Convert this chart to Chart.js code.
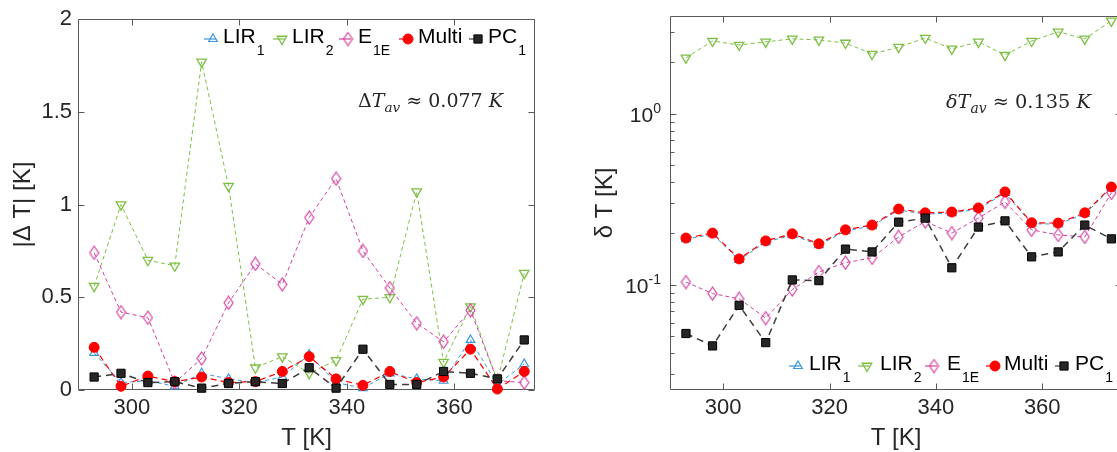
<!DOCTYPE html>
<html><head><meta charset="utf-8">
<script src="https://cdn.jsdelivr.net/npm/chart.js@4.4.1/dist/chart.umd.min.js"></script>
<style>
html,body{margin:0;padding:0;background:#fff;overflow:hidden;width:1117px;height:452px;}
#c1{position:absolute;left:0;top:0;}
#c2{position:absolute;left:560px;top:0;}
</style></head><body>
<canvas id="c1" width="560" height="452"></canvas>
<canvas id="c2" width="600" height="452"></canvas>
<script>
// ---------------- data ----------------
const temps = [293,298,303,308,313,318,323,328,333,338,343,348,353,358,363,368,373];
const xTicks = [300,320,340,360];
const absTicks = [0,0.5,1,1.5,2];
const absTickLabels = ['0','0.5','1','1.5','2'];
const relTicks = [0.1,1];
const relTickLabels = [['10','-1'],['10','0']];
const relMinorTicks = [0.03,0.04,0.05,0.06,0.07,0.08,0.09,0.2,0.3,0.4,0.5,0.6,0.7,0.8,0.9,2,3];
const seriesNames = [['LIR','1'],['LIR','2'],['E','1E'],['Multi',''],['PC','1']];

// |ΔT| [K]
const absLIR1  = [0.20,0.04,0.05,0.02,0.09,0.06,0.04,0.07,0.19,0.04,0.01,0.09,0.06,0.05,0.27,0.03,0.14];
const absLIR2  = [0.56,1.00,0.70,0.67,1.77,1.10,0.12,0.18,0.09,0.16,0.49,0.50,1.07,0.15,0.45,0.05,0.63];
const absE1E   = [0.74,0.42,0.39,0.04,0.17,0.47,0.68,0.57,0.93,1.14,0.75,0.55,0.36,0.26,0.43,0.05,0.04];
const absMulti = [0.23,0.02,0.075,0.045,0.07,0.04,0.045,0.10,0.18,0.06,0.025,0.10,0.04,0.07,0.22,0.005,0.10];
const absPC1   = [0.07,0.09,0.04,0.045,0.01,0.035,0.045,0.035,0.12,0.01,0.22,0.03,0.03,0.10,0.09,0.06,0.27];

// δT [K]
const relLIR1  = [0.185,0.198,0.140,0.178,0.196,0.171,0.207,0.221,0.274,0.260,0.263,0.278,0.345,0.228,0.227,0.260,0.368];
const relLIR2  = [2.13,2.67,2.53,2.64,2.75,2.71,2.60,2.24,2.46,2.78,2.40,2.64,2.21,2.67,3.02,2.75,3.50];
const relE1E   = [0.104,0.089,0.083,0.064,0.094,0.119,0.135,0.144,0.191,0.235,0.201,0.246,0.306,0.21,0.196,0.191,0.345];
const relMulti = [0.188,0.201,0.142,0.181,0.199,0.174,0.21,0.224,0.278,0.264,0.267,0.282,0.35,0.231,0.23,0.264,0.374];
const relPC1   = [0.052,0.044,0.076,0.046,0.107,0.106,0.162,0.156,0.233,0.246,0.126,0.218,0.237,0.146,0.156,0.224,0.186];

// ---------------- styles ----------------
const TXT = '#262626';
const SANS = '"Liberation Sans", Arial, Helvetica, sans-serif';
const SERIF = '"DejaVu Serif", "Liberation Serif", serif';

function diamondCanvas(color){
  const c = document.createElement('canvas'); c.width = 11; c.height = 15;
  const g = c.getContext('2d'); g.strokeStyle = color; g.lineWidth = 1.2;
  g.beginPath(); g.moveTo(5.5,1); g.lineTo(10,7.5); g.lineTo(5.5,14); g.lineTo(1,7.5); g.closePath(); g.stroke();
  return c;
}
const BLUE = '#3a98dc', GREEN = '#7cc043', MAG = '#d6409f', RED = '#ff0000';
const styles = [
  {borderColor:BLUE, borderWidth:1, borderDash:[4,3], pointStyle:'triangle', pointRotation:0, pointRadius:5,
   pointBorderColor:BLUE, pointBackgroundColor:'rgba(255,255,255,0)', pointBorderWidth:1.2, order:5},
  {borderColor:GREEN, borderWidth:1, borderDash:[4,3], pointStyle:'triangle', pointRotation:180, pointRadius:5.5,
   pointBorderColor:GREEN, pointBackgroundColor:'rgba(255,255,255,0)', pointBorderWidth:1.3, order:4},
  {borderColor:MAG, borderWidth:1, borderDash:[4,3], pointStyle:diamondCanvas(MAG), pointRotation:0, pointRadius:6,
   pointBorderColor:MAG, pointBackgroundColor:'rgba(255,255,255,0)', pointBorderWidth:1.2, order:3},
  {borderColor:RED, borderWidth:1.2, borderDash:[6,4], pointStyle:'circle', pointRotation:0, pointRadius:5,
   pointBorderColor:RED, pointBackgroundColor:RED, pointBorderWidth:1, order:2},
  {borderColor:'#3c3c3c', borderWidth:1.5, borderDash:[7,5], pointStyle:'rect', pointRotation:0, pointRadius:5.8,
   pointBorderColor:'#000', pointBackgroundColor:'#262626', pointBorderWidth:1, order:1}
];

function makeDatasets(arrs){
  return arrs.map((vals,k)=>Object.assign({
    label: seriesNames[k].join(''),
    data: temps.map((t,i)=>({x:t, y:vals[i]})),
    fill:false, tension:0, clip:false
  }, styles[k]));
}

// ---------------- decoration helpers ----------------
function drawMarker(ctx, st, x, y){
  ctx.save();
  ctx.strokeStyle = st.pointBorderColor; ctx.fillStyle = st.pointBackgroundColor; ctx.lineWidth = st.pointBorderWidth;
  if (Chart.helpers && Chart.helpers.drawPoint) {
    Chart.helpers.drawPoint(ctx, {pointStyle:st.pointStyle, rotation:st.pointRotation, radius:st.pointRadius, borderWidth:st.pointBorderWidth}, x, y);
  }
  ctx.restore();
}
function drawAnno(ctx, x, base, parts, targetW){
  const measure = (size)=>{
    let w = 0;
    for (const p of parts){ ctx.font = `${p.it?'italic ':''}${p.sub?size*0.72:size}px ${SERIF}`; w += ctx.measureText(p.t).width; }
    return w;
  };
  let size = 18; size = size * targetW / measure(size);
  let cx = x;
  ctx.fillStyle = TXT; ctx.textAlign = 'left'; ctx.textBaseline = 'alphabetic';
  for (const p of parts){
    ctx.font = `${p.it?'italic ':''}${p.sub?size*0.72:size}px ${SERIF}`;
    ctx.fillText(p.t, cx, base + (p.sub ? size*0.28 : 0));
    cx += ctx.measureText(p.t).width;
  }
}

function makeDecor(cfg){
  return {
    id:'decor',
    beforeDatasetsDraw(chart){
      const {ctx, chartArea:a, scales:{x, y}} = chart;
      ctx.save();
      ctx.strokeStyle = '#595959'; ctx.lineWidth = 1;
      const L = Math.round(a.left)+0.5, R = Math.round(a.right)-0.5, T = Math.round(a.top)+0.5, B = Math.round(a.bottom)-0.5;
      ctx.beginPath(); ctx.rect(L, T, R-L, B-T); ctx.stroke();
      ctx.beginPath();
      for (const v of xTicks){ const p = Math.round(x.getPixelForValue(v))+0.5; ctx.moveTo(p,B); ctx.lineTo(p,B-6); ctx.moveTo(p,T); ctx.lineTo(p,T+6); }
      for (const v of cfg.yTicks){ const p = Math.round(y.getPixelForValue(v))+0.5; ctx.moveTo(L,p); ctx.lineTo(L+6,p); ctx.moveTo(R,p); ctx.lineTo(R-6,p); }
      for (const v of (cfg.yMinor||[])){ const p = Math.round(y.getPixelForValue(v))+0.5; ctx.moveTo(L,p); ctx.lineTo(L+4,p); ctx.moveTo(R,p); ctx.lineTo(R-4,p); }
      ctx.stroke(); ctx.restore();
    },
    afterDraw(chart){
      const {ctx, chartArea:a, scales:{y}} = chart;
      ctx.save();
      // custom log tick labels
      if (cfg.yLabels){
        cfg.yTicks.forEach((v,i)=>{
          const p = y.getPixelForValue(v);
          const [m, s] = cfg.yLabels[i];
          ctx.fillStyle = TXT; ctx.textAlign = 'right'; ctx.textBaseline = 'alphabetic';
          ctx.font = `14px ${SANS}`; const sw = ctx.measureText(s).width;
          ctx.fillText(s, a.left - 9, p - 1);
          ctx.font = `21px ${SANS}`; ctx.fillText(m, a.left - 9 - sw, p + 8);
        });
      }
      // axis titles
      ctx.fillStyle = TXT; ctx.font = `24px ${SANS}`;
      ctx.textAlign = 'center'; ctx.textBaseline = 'alphabetic';
      ctx.fillText('T [K]', (a.left + a.right)/2, 445);
      ctx.save(); ctx.translate(cfg.yTitleX, (a.top+a.bottom)/2); ctx.rotate(-Math.PI/2);
      ctx.textBaseline = 'middle'; ctx.fillText(cfg.yTitle, 0, 0); ctx.restore();
      // legend
      cfg.legend.mx.forEach((mx,k)=>{
        const st = styles[k];
        ctx.save(); ctx.strokeStyle = st.borderColor; ctx.lineWidth = 1.2;
        ctx.beginPath(); ctx.moveTo(mx-9, cfg.legend.my); ctx.lineTo(mx+3, cfg.legend.my); ctx.stroke(); ctx.restore();
        drawMarker(ctx, st, mx, cfg.legend.my);
        const tx = cfg.legend.tx[k];
        ctx.fillStyle = '#000'; ctx.textAlign = 'left'; ctx.textBaseline = 'alphabetic';
        ctx.font = `21px ${SANS}`; ctx.fillText(seriesNames[k][0], tx, cfg.legend.base);
        const w = ctx.measureText(seriesNames[k][0]).width;
        if (seriesNames[k][1]){ ctx.font = `14px ${SANS}`; ctx.fillText(seriesNames[k][1], tx + w + 1, cfg.legend.base + 12); }
      });
      // annotation
      drawAnno(ctx, cfg.anno.x, cfg.anno.base, cfg.anno.parts, 145);
      ctx.restore();
    }
  };
}

function makeChart(id, datasets, yScale, padRight, yWidth, decor){
  return new Chart(document.getElementById(id), {
    type:'line',
    data:{datasets},
    options:{
      responsive:false, animation:false, events:[],
      layout:{padding:{top:16, right:padRight, left:0, bottom:0}},
      plugins:{legend:{display:false}, tooltip:{enabled:false}},
      scales:{
        x:{type:'linear', min:290, max:375, position:'bottom',
           grid:{display:false, drawTicks:false}, border:{display:false},
           afterBuildTicks:s=>{s.ticks = xTicks.map(v=>({value:v}));},
           afterFit:s=>{s.height = 62;},
           ticks:{color:TXT, font:{family:SANS, size:22}, padding:5, maxRotation:0, autoSkip:false}},
        y:Object.assign({position:'left', grid:{display:false, drawTicks:false}, border:{display:false},
           afterFit:s=>{s.width = yWidth;}}, yScale)
      }
    },
    plugins:[decor]
  });
}

// left panel
makeChart('c1', makeDatasets([absLIR1, absLIR2, absE1E, absMulti, absPC1]),
  {type:'linear', min:0, max:2,
   afterBuildTicks:s=>{s.ticks = absTicks.map(v=>({value:v}));},
   ticks:{color:TXT, font:{family:SANS, size:22}, padding:6,
          callback:(v)=>absTickLabels[absTicks.indexOf(v)]}},
  25, 78,
  makeDecor({yTicks:absTicks, yTitle:'|Δ T| [K]', yTitleX:23,
    legend:{mx:[213,282,348,408,478], tx:[223,292,358,418,488], my:39, base:42.5},
    anno:{x:358, base:107, parts:[{t:'Δ'},{t:'T',it:true},{t:'av',it:true,sub:true},{t:' ≈ 0.077 '},{t:'K',it:true}]}}));

// right panel (canvas offset 560px)
makeChart('c2', makeDatasets([relLIR1, relLIR2, relE1E, relMulti, relPC1]),
  {type:'logarithmic', min:0.0243, max:3.74,
   afterBuildTicks:s=>{s.ticks = relTicks.map(v=>({value:v}));},
   ticks:{display:false}},
  38, 110,
  makeDecor({yTicks:relTicks, yMinor:relMinorTicks, yLabels:relTickLabels, yTitle:'δ T [K]', yTitleX:45,
    legend:{mx:[238,307,374,435,504], tx:[249,320,387,444,515], my:366, base:370},
    anno:{x:386, base:108, parts:[{t:'δ',it:true},{t:'T',it:true},{t:'av',it:true,sub:true},{t:' ≈ 0.135 '},{t:'K',it:true}]}}));
</script>
</body></html>
